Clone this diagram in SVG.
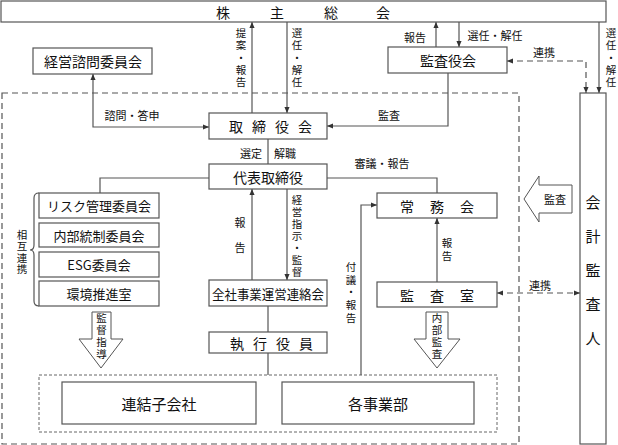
<svg xmlns="http://www.w3.org/2000/svg" width="618" height="445" viewBox="0 0 618 445">
<defs>
<marker id="ah" viewBox="0 0 8 8" refX="7" refY="4" markerWidth="7" markerHeight="7" orient="auto-start-reverse" markerUnits="userSpaceOnUse">
<path d="M0,1 L7,4 L0,7 Z" fill="#333"/>
</marker>
<style>
.box{fill:#fff;stroke:#555;stroke-width:1.2}
.ln{fill:none;stroke:#555;stroke-width:1.2}
.dl{fill:none;stroke:#555;stroke-width:1.2;stroke-dasharray:6,4}
.dot{fill:none;stroke:#666;stroke-width:1;stroke-dasharray:3,2}
.blk{fill:#fff;stroke:#555;stroke-width:1}
text{font-family:"Noto Sans CJK JP","Noto Sans CJK SC",sans-serif;fill:#111;text-anchor:middle;dominant-baseline:central}
.t14{font-size:14px}
.t13{font-size:13px}
.t11{font-size:11px}
.v{font-size:10.5px;writing-mode:vertical-rl}
.t15{font-size:15px}
</style>
</defs>
<rect width="618" height="445" fill="#fff"/>

<g id="frames">
<rect class="dl" x="2" y="93" width="517" height="351"/>
<rect class="dot" x="39" y="375" width="458" height="57"/>
</g>

<g id="connectors">
<path class="ln" d="M252,113 V22" marker-end="url(#ah)"/>
<path class="ln" d="M287,22 V113" marker-end="url(#ah)"/>
<path class="ln" d="M93,74 V127 H209" marker-start="url(#ah)" marker-end="url(#ah)"/>
<path class="ln" d="M436,47 V22" marker-end="url(#ah)"/>
<path class="ln" d="M459,22 V47" marker-end="url(#ah)"/>
<path class="ln" d="M448,73 V126 H327" marker-end="url(#ah)"/>
<path class="dl" d="M507,61 H586 V93" marker-start="url(#ah)" marker-end="url(#ah)"/>
<path class="ln" d="M599,22 V93" marker-end="url(#ah)"/>
<path class="ln" d="M268,139 V164"/>
<path class="ln" d="M209,178 H100 V193"/>
<path class="ln" d="M327,178 H437 V193"/>
<path class="ln" d="M252,280 V189" marker-end="url(#ah)"/>
<path class="ln" d="M287,189 V280" marker-end="url(#ah)"/>
<path class="ln" d="M268,306 V332"/>
<path class="ln" d="M268,353 V375"/>
<path class="ln" d="M361,375 V205 H377" marker-end="url(#ah)"/>
<path class="ln" d="M437,282 V218" marker-end="url(#ah)"/>
<path class="dl" d="M497,293 H580" marker-start="url(#ah)" marker-end="url(#ah)"/>
<path class="ln" d="M39,193 Q34,193 34,198 V245 Q34,250 30,250 Q34,250 34,255 V301 Q34,306 39,306"/>
</g>

<g id="labels">
<text class="v" x="241" y="58.4" letter-spacing="1.75">提案・報告</text>
<text class="v" x="297" y="58.4" letter-spacing="1.75">選任・解任</text>
<text class="t11" x="132" y="115">諮問・答申</text>
<text class="t11" x="415" y="37">報告</text>
<text class="t11" x="495" y="35">選任・解任</text>
<text class="t11" x="544" y="52">連携</text>
<text class="v" x="611" y="58.4" letter-spacing="1.75">選任・解任</text>
<text class="t11" x="389" y="115">監査</text>
<text class="t11" x="251" y="153">選定</text>
<text class="t11" x="285" y="153">解職</text>
<text class="t11" x="382" y="163">審議・報告</text>
<text class="v" x="240" y="242.5" letter-spacing="14" style="font-size:11px">報告</text>
<text class="v" x="297" y="236.75" letter-spacing="1.5">経営指示・監督</text>
<text class="v" x="22" y="252.75" letter-spacing="1">相互連携</text>
<text class="v" x="351" y="293.6" letter-spacing="2.25">付議・報告</text>
<text class="v" x="447" y="250.75" letter-spacing="2.5">報告</text>
<text class="t11" x="540" y="285">連携</text>
</g>

<g id="shareholders"><rect class="box" x="1" y="1" width="605" height="21"/><text class="t14" x="223 277 331 383" y="12">株主総会</text></g>
<g id="advisory"><rect class="box" x="33" y="48" width="119" height="26"/><text class="t14" x="93" y="61">経営諮問委員会</text></g>
<g id="auditboard"><rect class="box" x="388" y="47" width="119" height="26"/><text class="t14" x="448" y="60">監査役会</text></g>
<g id="board"><rect class="box" x="209" y="113" width="118" height="26"/><text class="t14" x="236 259 282 305" y="126">取締役会</text></g>
<g id="ceo"><rect class="box" x="209" y="164" width="118" height="25"/><text class="t14" x="268" y="176.5">代表取締役</text></g>
<g id="risk"><rect class="box" x="39" y="193" width="120" height="25"/><text class="t13" x="99" y="205.5">リスク管理委員会</text></g>
<g id="internal"><rect class="box" x="39" y="223" width="120" height="24"/><text class="t13" x="99" y="235">内部統制委員会</text></g>
<g id="esg"><rect class="box" x="39" y="252" width="120" height="25"/><text class="t13" x="99" y="264.5">ESG委員会</text></g>
<g id="env"><rect class="box" x="39" y="281" width="120" height="25"/><text class="t13" x="99" y="293.5">環境推進室</text></g>
<g id="managing"><rect class="box" x="377" y="193" width="120" height="25"/><text class="t14" x="407 437 467" y="205.5">常務会</text></g>
<g id="auditoffice"><rect class="box" x="377" y="282" width="120" height="25"/><text class="t14" x="407 437 467" y="294.5">監査室</text></g>
<g id="liaison"><rect class="box" x="209" y="280" width="118" height="26"/><text class="t13" x="268" y="293" textLength="112" lengthAdjust="spacingAndGlyphs">全社事業運営連絡会</text></g>
<g id="officers"><rect class="box" x="209" y="332" width="118" height="21"/><text class="t14" x="237 260 283 306" y="342.5">執行役員</text></g>
<g id="subsidiaries"><rect class="box" x="62" y="382" width="194" height="42"/><text class="t15" x="159" y="403">連結子会社</text></g>
<g id="divisions"><rect class="box" x="282" y="382" width="192" height="42"/><text class="t15" x="378" y="403">各事業部</text></g>
<g id="accountant"><rect class="box" x="580" y="93" width="26" height="351"/>
<text class="v" x="593" y="279.5" letter-spacing="19" style="font-size:15px">会計監査人</text></g>

<g id="arrow-guidance"><polygon class="blk" points="92,312 111,312 111,339 123,339 101,368 79,339 92,339"/>
<text class="v" x="101.5" y="336.75" letter-spacing="1.5">監督指導</text></g>
<g id="arrow-internalaudit"><polygon class="blk" points="426,312 448,312 448,339 460,339 437,368 414,339 426,339"/>
<text class="v" x="437" y="336.75" letter-spacing="1.5">内部監査</text></g>
<g id="arrow-audit"><polygon class="blk" points="524,199 539,176 539,185 572,185 572,213 539,213 539,222"/>
<text class="t11" x="555" y="199">監査</text></g>
</svg>
